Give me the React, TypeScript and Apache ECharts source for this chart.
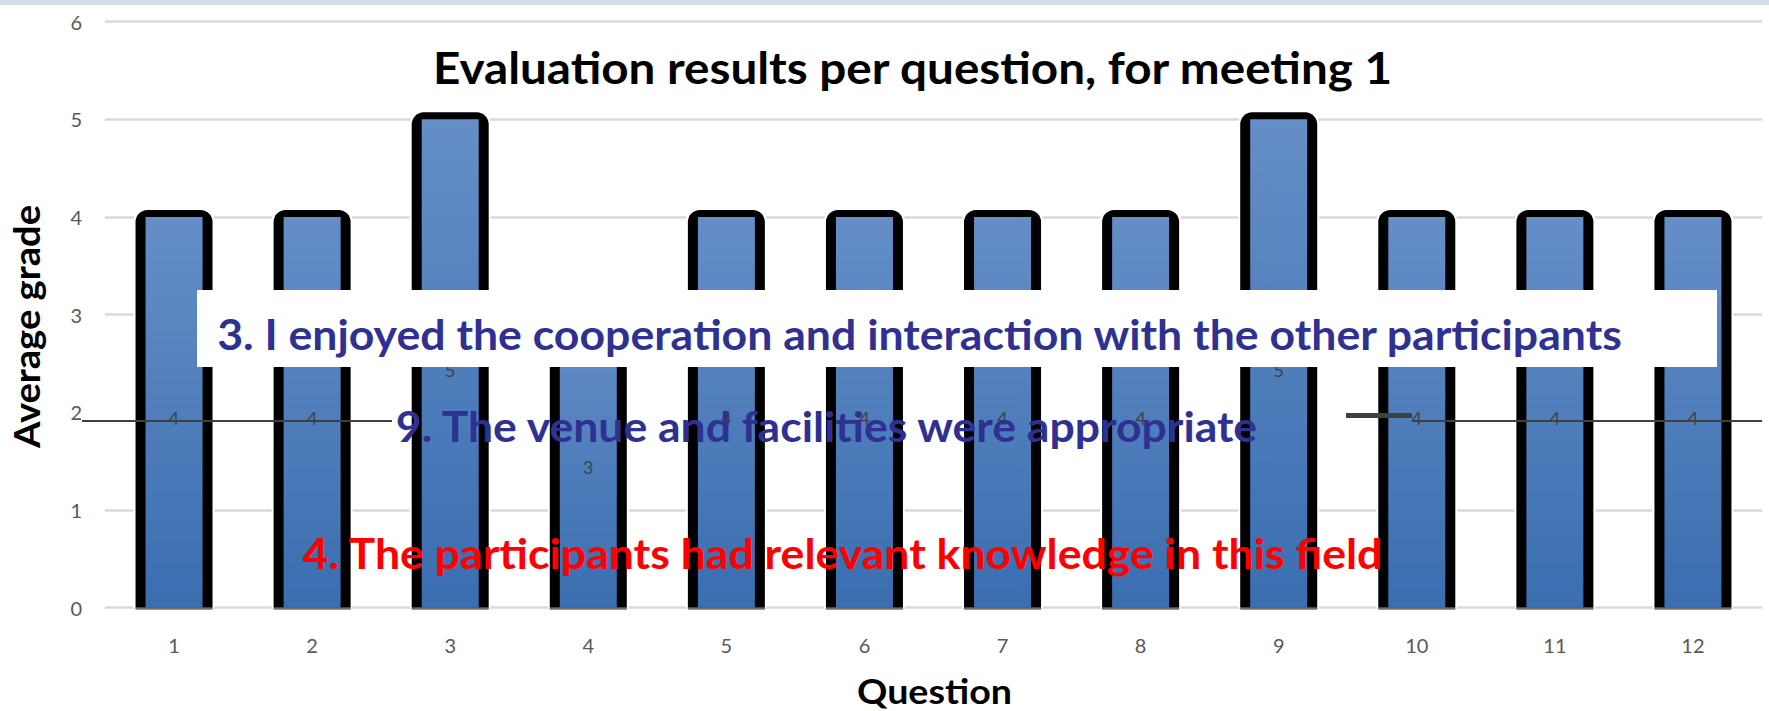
import React, { useEffect, useRef } from "react";
import * as echarts from "echarts";

// ---- data ----
const questions = ["1", "2", "3", "4", "5", "6", "7", "8", "9", "10", "11", "12"];
const averageGrades = [4, 4, 5, 3, 4, 4, 4, 4, 5, 4, 4, 4];
const yMin = 0;
const yMax = 6;
const yInterval = 1;

// ---- texts ----
const chartTitle = "Evaluation results per question, for meeting 1";
const xAxisTitle = "Question";
const yAxisTitle = "Average grade";
const note3 = "3. I enjoyed the cooperation and interaction with the other participants";
const note9 = "9. The venue and facilities were appropriate";
const note4 = "4. The participants had relevant knowledge in this field";

const W = 1769;
const H = 711;
const FONT = "Lato";

// bar drawing sizes (pixels)
const OUTER_W = 77;
const INNER_W = 57;
const TOP_BORDER = 7;
const HALO = 2;

function measure(text: string, size: number, weight: string) {
  const c = document.createElement("canvas").getContext("2d");
  if (!c) return 1;
  c.font = `${weight} ${size}px ${FONT}`;
  return c.measureText(text).width || 1;
}

function fittedText(
  text: string,
  cx: number,
  cy: number,
  width: number,
  size: number,
  color: string,
  rotation = 0
) {
  const w = measure(text, size, "bold");
  return {
    type: "text",
    x: cx,
    y: cy,
    rotation,
    scaleX: width / w,
    z: 100,
    style: {
      text,
      fill: color,
      font: `bold ${size}px ${FONT}`,
      fontFamily: FONT,
      fontWeight: "bold",
      fontSize: size,
      align: "center",
      verticalAlign: "middle",
    },
  };
}

export default function App() {
  const ref = useRef<HTMLDivElement>(null);

  useEffect(() => {
    if (!ref.current) return;
    const chart = echarts.init(ref.current, undefined, { renderer: "svg" });
    const blue = "#2E3192";
    const gridColor = "#D9D9D9";

    const renderBar = (params: any, api: any) => {
      const idx = api.value(0);
      const val = api.value(1);
      const top = api.coord([idx, val]);
      const base = api.coord([idx, 0]);
      const cx = top[0];
      const ty = top[1];
      const by = base[1];
      return {
        type: "group",
        children: [
          {
            type: "rect",
            shape: { x: cx - OUTER_W / 2 - HALO, y: ty - TOP_BORDER - HALO, width: OUTER_W + 2 * HALO, height: by - ty + TOP_BORDER + HALO, r: [13, 13, 0, 0] },
            style: { fill: "#FFFFFF" },
          },
          {
            type: "rect",
            shape: { x: cx - OUTER_W / 2, y: ty - TOP_BORDER, width: OUTER_W, height: by - ty + TOP_BORDER, r: [12, 12, 0, 0] },
            style: { fill: "#000000" },
          },
          {
            type: "rect",
            shape: { x: cx - INNER_W / 2, y: ty, width: INNER_W, height: by - ty },
            style: {
              fill: new echarts.graphic.LinearGradient(0, 0, 0, 1, [
                { offset: 0, color: "#658EC7" },
                { offset: 1, color: "#3A6EB0" },
              ]),
            },
          },
          {
            type: "rect",
            shape: { x: cx - OUTER_W / 2, y: by, width: OUTER_W, height: 2 },
            style: { fill: "#6F6F6F" },
          },
          {
            type: "text",
            x: cx,
            y: (ty + by) / 2 + 6,
            style: {
              text: String(val),
              fill: "#404040",
              fontSize: 18,
              fontFamily: FONT,
              align: "center",
              verticalAlign: "middle",
            },
          },
        ],
      };
    };

    chart.setOption({
      animation: false,
      backgroundColor: "#FFFFFF",
      grid: { left: 105, right: 7, top: 21.7, bottom: 103.3, containLabel: false },
      xAxis: {
        type: "category",
        data: questions,
        axisTick: { show: false },
        axisLine: { show: false },
        axisLabel: { color: "#595959", fontSize: 20, fontFamily: FONT, margin: 27 },
      },
      yAxis: {
        type: "value",
        min: yMin,
        max: yMax,
        interval: yInterval,
        axisLine: { show: false },
        axisTick: { show: false },
        axisLabel: { color: "#595959", fontSize: 20, fontFamily: FONT, margin: 23 },
        splitLine: {
          lineStyle: {
            color: [gridColor, gridColor, "rgba(0,0,0,0)", gridColor, gridColor, gridColor, gridColor],
            width: 2.5,
          },
        },
      },
      series: [
        {
          type: "custom",
          name: "Average grade",
          data: averageGrades.map((v, i) => [i, v]),
          encode: { x: 0, y: 1 },
          renderItem: renderBar,
          clip: false,
        },
      ],
      graphic: [
        { type: "rect", z: 100, shape: { x: 0, y: 0, width: W, height: 5 }, style: { fill: "#D3DAEA" } },
        { type: "line", z: 100, shape: { x1: 82, y1: 421, x2: 392, y2: 421 }, style: { stroke: "#404040", lineWidth: 2 } },
        { type: "line", z: 100, shape: { x1: 1412, y1: 421, x2: 1762, y2: 421 }, style: { stroke: "#404040", lineWidth: 2 } },
        { type: "line", z: 100, shape: { x1: 1346, y1: 415.5, x2: 1412, y2: 415.5 }, style: { stroke: "#404040", lineWidth: 5 } },
        { type: "rect", z: 99, shape: { x: 197, y: 290, width: 1520, height: 77 }, style: { fill: "#FFFFFF" } },
        fittedText(chartTitle, 912.5, 67, 961, 44, "#000000"),
        fittedText(note3, 919.5, 334, 1407, 42, blue),
        fittedText(note9, 826.5, 426, 865, 42, blue),
        fittedText(note4, 842.5, 553, 1081, 42, "#FF0000"),
        fittedText(xAxisTitle, 934.5, 691, 155, 35, "#000000"),
        fittedText(yAxisTitle, 26, 326.5, 243, 37, "#000000", Math.PI / 2),
      ],
    });

    return () => chart.dispose();
  }, []);

  return (
    <div
      ref={ref}
      style={{ position: "absolute", left: 0, top: 0, width: W, height: H, background: "#fff" }}
    />
  );
}
